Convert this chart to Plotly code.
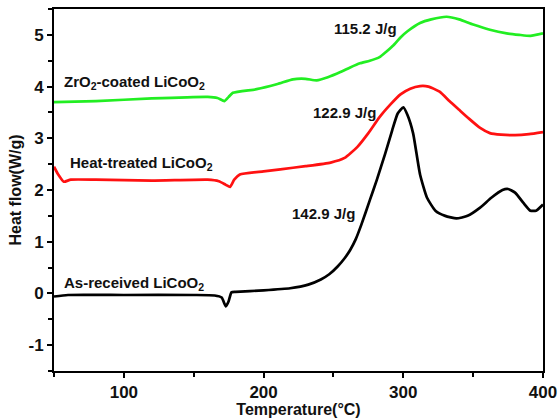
import plotly.graph_objects as go

# As-received LiCoO2 (black)
as_x = [50, 60, 100, 150, 165, 170, 173, 175, 177, 180, 200, 219, 232, 241, 247, 253, 258, 262, 266, 270, 276, 281, 287, 292, 296, 300, 303, 307, 312, 317, 323, 330, 338, 346, 355, 363, 371, 375, 380, 386, 391, 395, 400]
as_y = [-0.06, -0.03, -0.03, -0.03, -0.04, -0.08, -0.25, -0.15, 0.02, 0.03, 0.06, 0.10, 0.17, 0.27, 0.37, 0.52, 0.68, 0.84, 1.05, 1.33, 1.8, 2.19, 2.7, 3.15, 3.48, 3.6, 3.45, 3.1, 2.3, 1.85, 1.6, 1.5, 1.45, 1.5, 1.66, 1.85, 2.0, 2.02, 1.95, 1.75, 1.6, 1.6, 1.72]

# Heat-treated LiCoO2 (red)
ht_x = [50, 53, 57, 62, 80, 120, 160, 168, 173, 176, 179, 183, 200, 212, 230, 248, 258, 267, 275, 283, 291, 298, 305, 312, 318, 326, 333, 340, 347, 355, 362, 370, 380, 390, 400]
ht_y = [2.45, 2.3, 2.16, 2.2, 2.2, 2.18, 2.2, 2.17, 2.1, 2.06, 2.2, 2.3, 2.36, 2.4, 2.46, 2.53, 2.62, 2.83, 3.1, 3.41, 3.66, 3.85, 3.96, 4.01, 4.0, 3.9, 3.72, 3.55, 3.38, 3.2, 3.1, 3.07, 3.06, 3.08, 3.12]

# ZrO2-coated LiCoO2 (green)
zr_x = [50, 80, 120, 160, 167, 172, 175, 178, 195, 210, 221, 230, 238, 246, 255, 262, 269, 276, 283, 288, 293, 298, 303, 312, 320, 331, 340, 350, 362, 374, 383, 391, 400]
zr_y = [3.7, 3.72, 3.77, 3.8, 3.78, 3.72, 3.8, 3.88, 3.95, 4.05, 4.14, 4.15, 4.12, 4.18, 4.28, 4.37, 4.45, 4.5, 4.57, 4.68, 4.8, 4.95, 5.07, 5.23, 5.3, 5.35, 5.3, 5.2, 5.1, 5.03, 5.0, 4.98, 5.03]

labels = ["ZrO<sub>2</sub>-coated LiCoO<sub>2</sub>", "Heat-treated LiCoO<sub>2</sub>", "As-received LiCoO<sub>2</sub>"]
label_x = [55.5, 60, 55.5]
label_y = [4.07, 2.52, 0.2]
enthalpy = ["115.2 J/g", "122.9 J/g", "142.9 J/g"]
enth_x = [272.6, 258, 242.6]
enth_y = [5.13, 3.49, 1.55]

x_ticks = [100, 200, 300, 400]
y_ticks = [-1, 0, 1, 2, 3, 4, 5]

FAM = "Liberation Sans, Arial, sans-serif"

fig = go.Figure()
for xs, ys, c in [(zr_x, zr_y, "#22ee22"), (ht_x, ht_y, "#ff1111"), (as_x, as_y, "#000000")]:
    fig.add_trace(go.Scatter(x=xs, y=ys, mode="lines",
                             line=dict(color=c, width=2.7, shape="spline", smoothing=0.5),
                             showlegend=False, hoverinfo="skip"))

font = dict(family=FAM, size=15, color="#111")
for t, x, y in zip(labels, label_x, label_y):
    fig.add_annotation(x=x, y=y, text="<b>" + t + "</b>", showarrow=False,
                       xanchor="left", yanchor="middle", font=font)
for t, x, y in zip(enthalpy, enth_x, enth_y):
    fig.add_annotation(x=x, y=y, text="<b>" + t + "</b>", showarrow=False,
                       xanchor="center", yanchor="middle", font=font)

axis_common = dict(showline=True, linecolor="black", linewidth=2, mirror=True,
                   ticks="outside", ticklen=5, tickwidth=2, tickcolor="black",
                   showgrid=False, zeroline=False, automargin=False,
                   tickfont=dict(family=FAM, size=17, color="#111"))

fig.update_xaxes(range=[50, 400], tickvals=x_ticks, ticktext=["<b>%d</b>" % v for v in x_ticks],
                 minor=dict(dtick=50, tick0=0, ticks="outside", ticklen=4, tickwidth=2, tickcolor="black"),
                 title=dict(text="<b>Temperature(°C)</b>", standoff=0,
                            font=dict(family=FAM, size=16, color="#111")),
                 **axis_common)
fig.update_yaxes(range=[-1.5, 5.5], tickvals=y_ticks, ticktext=["<b>%d</b>" % v for v in y_ticks],
                 minor=dict(dtick=0.5, tick0=0, ticks="outside", ticklen=4, tickwidth=2, tickcolor="black"),
                 title=dict(text="<b>Heat flow(W/g)</b>", standoff=3,
                            font=dict(family=FAM, size=16, color="#111")),
                 **axis_common)

fig.update_layout(width=559, height=418, margin=dict(l=54, r=16, t=9, b=47),
                  plot_bgcolor="white", paper_bgcolor="white")

fig.write_html("out.html")
